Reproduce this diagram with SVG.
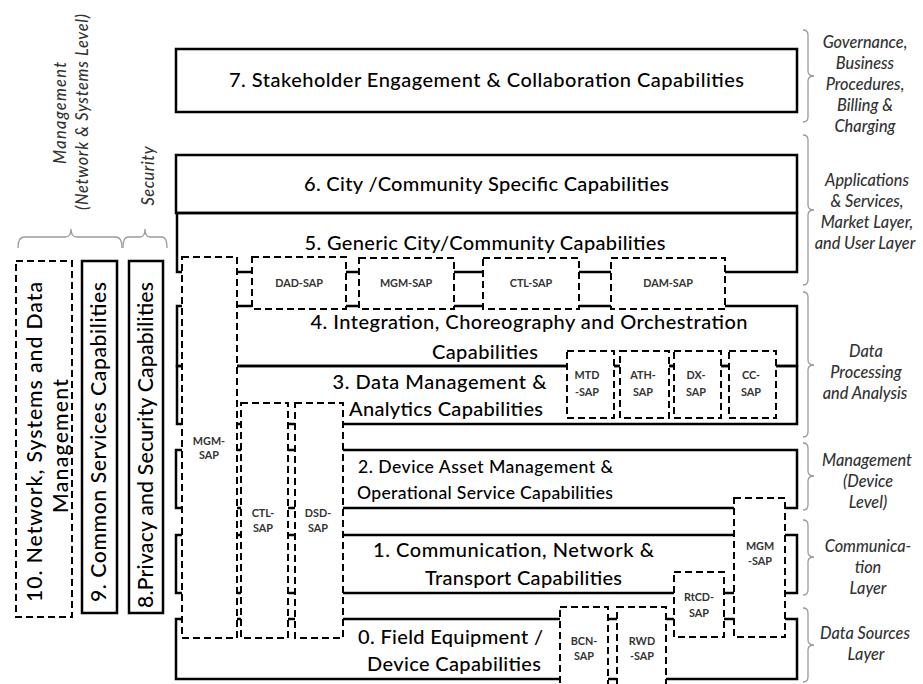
<svg xmlns="http://www.w3.org/2000/svg" width="923" height="684" viewBox="0 0 923 684">
<defs>
<style>
.layer{fill:none;stroke:#000;stroke-width:2.5}
.solid{fill:#fff;stroke:#000;stroke-width:2.5}
.sap{fill:#fff;stroke:#000;stroke-width:2;stroke-dasharray:7 4}
.lt{font-family:Lato,"Liberation Sans",sans-serif;font-weight:500;font-size:20px;fill:#000;text-anchor:middle}
.lt2{font-family:Lato,"Liberation Sans",sans-serif;font-weight:500;font-size:17.6px;fill:#000;text-anchor:middle}
.side{font-family:Lato,"Liberation Sans",sans-serif;font-weight:500;font-size:21.2px;fill:#000;text-anchor:middle}
.st{font-family:Lato,"Liberation Sans",sans-serif;font-weight:bold;font-size:10.8px;fill:#333;text-anchor:middle}
.ann{font-family:Lato,"Liberation Sans",sans-serif;font-style:italic;font-weight:500;font-size:16.3px;fill:#333;text-anchor:middle}
.brace{fill:none;stroke:#9a9a9a;stroke-width:1.3}
</style>
</defs>
<rect width="923" height="684" fill="#fff"/>

<g id="layer7"><rect class="layer" x="176" y="49" width="621" height="63"/>
<text class="lt" x="486.5" y="87" textLength="515">7. Stakeholder Engagement &amp; Collaboration Capabilities</text></g>
<g id="layer6"><rect class="layer" x="176" y="155" width="621" height="58"/>
<text class="lt" x="486.5" y="191" textLength="365">6. City /Community Specific Capabilities</text></g>
<g id="layer5"><rect class="layer" x="177" y="213" width="620" height="59"/>
<text class="lt" x="485" y="250" textLength="361">5. Generic City/Community Capabilities</text></g>
<g id="layer4"><rect class="layer" x="177" y="306" width="620" height="60"/>
<text class="lt" x="529" y="329" textLength="437">4. Integration, Choreography and Orchestration</text>
<text class="lt" x="485" y="359" textLength="106">Capabilities</text></g>
<g id="layer3"><rect class="layer" x="177" y="366" width="620" height="58"/>
<text class="lt" x="439.5" y="389" textLength="214">3. Data Management &amp;</text>
<text class="lt" x="446" y="416" textLength="194">Analytics Capabilities</text></g>
<g id="layer2"><rect class="layer" x="176" y="450" width="621" height="58"/>
<text class="lt2" x="485.5" y="473" textLength="255">2. Device Asset Management &amp;</text>
<text class="lt2" x="485" y="499" textLength="256">Operational Service Capabilities</text></g>
<g id="layer1"><rect class="layer" x="176" y="535" width="621" height="58"/>
<text class="lt" x="513.5" y="557" textLength="281">1. Communication, Network &amp;</text>
<text class="lt" x="523.5" y="585" textLength="197">Transport Capabilities</text></g>
<g id="layer0"><rect class="layer" x="176" y="619" width="621" height="60"/>
<text class="lt" x="450.5" y="644" textLength="185">0. Field Equipment /</text>
<text class="lt" x="454" y="671" textLength="174">Device Capabilities</text></g>

<g id="sap-mgm-tall"><rect class="sap" x="182" y="257" width="55" height="381"/>
<text class="st" x="209" y="445">MGM-</text><text class="st" x="209" y="459">SAP</text></g>
<g id="sap-dad"><rect class="sap" x="252" y="257" width="94" height="52"/>
<text class="st" x="299" y="287">DAD-SAP</text></g>
<g id="sap-mgm-top"><rect class="sap" x="359" y="258" width="95" height="51"/>
<text class="st" x="406" y="287">MGM-SAP</text></g>
<g id="sap-ctl-top"><rect class="sap" x="483" y="258" width="96" height="51"/>
<text class="st" x="531" y="287">CTL-SAP</text></g>
<g id="sap-dam"><rect class="sap" x="611" y="258" width="114" height="51"/>
<text class="st" x="668" y="287">DAM-SAP</text></g>
<g id="sap-mtd"><rect class="sap" x="567" y="351" width="47" height="67"/>
<text class="st" x="587" y="379">MTD</text><text class="st" x="587" y="396">-SAP</text></g>
<g id="sap-ath"><rect class="sap" x="620" y="351" width="49" height="67"/>
<text class="st" x="643" y="379">ATH-</text><text class="st" x="643" y="396">SAP</text></g>
<g id="sap-dx"><rect class="sap" x="674" y="351" width="47" height="67"/>
<text class="st" x="696" y="379">DX-</text><text class="st" x="696" y="396">SAP</text></g>
<g id="sap-cc"><rect class="sap" x="729" y="351" width="47" height="67"/>
<text class="st" x="751" y="379">CC-</text><text class="st" x="751" y="396">SAP</text></g>
<g id="sap-ctl-tall"><rect class="sap" x="241" y="403" width="47" height="235"/>
<text class="st" x="263" y="517">CTL-</text><text class="st" x="263" y="532">SAP</text></g>
<g id="sap-dsd"><rect class="sap" x="295" y="403" width="48" height="235"/>
<text class="st" x="318" y="517">DSD-</text><text class="st" x="318" y="532">SAP</text></g>
<g id="sap-mgm-right"><rect class="sap" x="734" y="498" width="51" height="139"/>
<text class="st" x="760" y="550">MGM</text><text class="st" x="760" y="565">-SAP</text></g>
<g id="sap-rtcd"><rect class="sap" x="674" y="572" width="50" height="65"/>
<text class="st" x="699" y="601">RtCD-</text><text class="st" x="699" y="617">SAP</text></g>
<g id="sap-bcn"><rect class="sap" x="560" y="607" width="48" height="100"/>
<text class="st" x="584" y="645">BCN-</text><text class="st" x="584" y="660">SAP</text></g>
<g id="sap-rwd"><rect class="sap" x="617" y="607" width="49" height="100"/>
<text class="st" x="642" y="645">RWD</text><text class="st" x="642" y="660">-SAP</text></g>

<g id="box10"><rect class="sap" x="16" y="261" width="56" height="356"/>
<text class="side" transform="translate(42,442) rotate(-90)" textLength="320">10. Network, Systems and Data</text>
<text class="side" transform="translate(68,446) rotate(-90)" textLength="134">Management</text></g>
<g id="box9"><rect class="solid" x="82" y="261" width="35" height="352"/>
<text class="side" transform="translate(106,442) rotate(-90)" textLength="320">9. Common Services Capabilities</text></g>
<g id="box8"><rect class="solid" x="129" y="261" width="34" height="352"/>
<text class="side" transform="translate(153,445) rotate(-90)" textLength="326">8.Privacy and Security Capabilities</text></g>

<g id="labels-left">
<text class="ann" transform="translate(66,113) rotate(-90)" textLength="102">Management</text>
<text class="ann" transform="translate(88,112) rotate(-90)" textLength="196">(Network &amp; Systems Level)</text>
<text class="ann" transform="translate(154,176) rotate(-90)" textLength="59">Security</text>
</g>

<g id="braces">
<path class="brace" d="M18,248 Q18,237 24,237 L65,237 Q71,237 71,229 Q71,237 77,237 L116,237 Q122,237 122,248"/>
<path class="brace" d="M123,248 Q123,237 128,237 L140,237 Q145,237 145,229 Q145,237 150,237 L162,237 Q167,237 167,248"/>
<path class="brace" d="M803,30 Q808,30 808,35 L808,71 Q808,76 814,76 Q808,76 808,81 L808,117 Q808,122 803,122"/>
<path class="brace" d="M803,135 Q808,135 808,140 L808,205 Q808,210 814,210 Q808,210 808,215 L808,280 Q808,285 803,285"/>
<path class="brace" d="M803,292 Q808,292 808,297 L808,360 Q808,365 814,365 Q808,365 808,370 L808,432 Q808,437 803,437"/>
<path class="brace" d="M803,443 Q808,443 808,448 L808,471 Q808,476 814,476 Q808,476 808,481 L808,505 Q808,510 803,510"/>
<path class="brace" d="M803,520 Q808,520 808,525 L808,552 Q808,557 814,557 Q808,557 808,562 L808,590 Q808,595 803,595"/>
<path class="brace" d="M803,608 Q808,608 808,613 L808,640 Q808,645 814,645 Q808,645 808,650 L808,677 Q808,682 803,682"/>
</g>

<g id="labels-right">
<text class="ann" x="865" y="48">Governance,</text>
<text class="ann" x="865" y="69">Business</text>
<text class="ann" x="865" y="90">Procedures,</text>
<text class="ann" x="865" y="111">Billing &amp;</text>
<text class="ann" x="865" y="132">Charging</text>
<text class="ann" x="867" y="186">Applications</text>
<text class="ann" x="867" y="207">&amp; Services,</text>
<text class="ann" x="867" y="228">Market Layer,</text>
<text class="ann" x="865" y="249">and User Layer</text>
<text class="ann" x="866" y="357">Data</text>
<text class="ann" x="866" y="378">Processing</text>
<text class="ann" x="865" y="399">and Analysis</text>
<text class="ann" x="867" y="466">Management</text>
<text class="ann" x="868" y="487">(Device</text>
<text class="ann" x="868" y="508">Level)</text>
<text class="ann" x="868" y="552">Communica-</text>
<text class="ann" x="868" y="573">tion</text>
<text class="ann" x="868" y="594">Layer</text>
<text class="ann" x="865" y="639">Data Sources</text>
<text class="ann" x="866" y="660">Layer</text>
</g>
</svg>
